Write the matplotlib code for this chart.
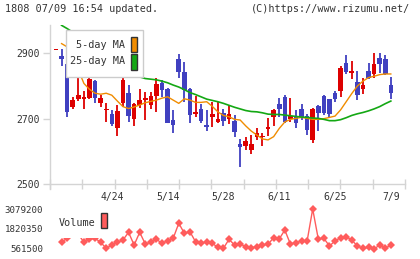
import matplotlib
matplotlib.use("Agg")
import matplotlib.pyplot as plt
import numpy as np
from matplotlib.patches import Rectangle

# price data (61 trading days)
opens = [2912, 2892, 2867, 2737, 2759, 2761, 2764, 2815, 2749, 2726,
         2713, 2670, 2749, 2780, 2700, 2742, 2758, 2742, 2769, 2808,
         2791, 2696, 2882, 2842, 2791, 2714, 2731, 2681, 2706, 2690,
         2717, 2698, 2692, 2624, 2616, 2604, 2643, 2645, 2667, 2706,
         2745, 2765, 2698, 2707, 2731, 2707, 2635, 2738, 2769, 2759,
         2780, 2786, 2872, 2841, 2811, 2791, 2846, 2836, 2885, 2882,
         2803]
closes = [2912, 2884, 2721, 2757, 2772, 2767, 2821, 2764, 2762, 2728,
          2683, 2724, 2818, 2709, 2745, 2757, 2762, 2769, 2805, 2788,
          2687, 2681, 2844, 2788, 2711, 2720, 2694, 2676, 2714, 2698,
          2694, 2713, 2660, 2614, 2631, 2624, 2655, 2648, 2676, 2728,
          2730, 2690, 2707, 2687, 2706, 2665, 2731, 2718, 2718, 2713,
          2760, 2854, 2842, 2846, 2772, 2803, 2826, 2869, 2869, 2836,
          2780]
highs = [2912, 2915, 2882, 2765, 2833, 2785, 2841, 2818, 2772, 2749,
         2728, 2742, 2824, 2803, 2748, 2790, 2783, 2782, 2826, 2818,
         2793, 2728, 2898, 2873, 2793, 2769, 2744, 2726, 2752, 2752,
         2731, 2742, 2711, 2638, 2643, 2650, 2673, 2657, 2702, 2731,
         2762, 2772, 2762, 2728, 2744, 2714, 2733, 2742, 2772, 2761,
         2786, 2861, 2895, 2876, 2846, 2826, 2872, 2902, 2902, 2895,
         2829]
lows = [2912, 2862, 2706, 2729, 2755, 2730, 2759, 2749, 2737, 2690,
        2679, 2647, 2735, 2690, 2677, 2732, 2696, 2730, 2721, 2767,
        2686, 2657, 2824, 2752, 2686, 2706, 2686, 2663, 2676, 2686,
        2677, 2683, 2645, 2553, 2604, 2591, 2635, 2616, 2647, 2677,
        2706, 2686, 2690, 2670, 2696, 2650, 2627, 2663, 2711, 2704,
        2752, 2767, 2836, 2821, 2757, 2775, 2823, 2826, 2839, 2834,
        2759]

ma5 = [np.nan, 2930, 2920, 2880, 2850, 2808, 2790, 2778, 2775, 2778,
       2772, 2754, 2737, 2731, 2736, 2742, 2749, 2753, 2757, 2763,
       2767, 2757, 2747, 2761, 2757, 2750, 2750, 2752, 2738, 2721,
       2710, 2706, 2698, 2696, 2678, 2662, 2650, 2638, 2635, 2645,
       2670, 2690, 2698, 2701, 2704, 2701, 2698, 2698, 2700, 2704,
       2708, 2727, 2752, 2777, 2800, 2815, 2826, 2830, 2835, 2837,
       2837]
ma25 = [np.nan, 2986, 2976, 2965, 2955, 2944, 2931, 2920, 2905, 2893,
        2880, 2868, 2857, 2845, 2835, 2828, 2823, 2821, 2819, 2815,
        2810, 2803, 2797, 2789, 2780, 2774, 2767, 2760, 2756, 2752,
        2747, 2741, 2735, 2730, 2725, 2722, 2721, 2718, 2714, 2713,
        2713, 2711, 2709, 2707, 2705, 2704, 2702, 2701, 2698, 2694,
        2694, 2697, 2703, 2710, 2715, 2719, 2724, 2730, 2737, 2746,
        2754]

volume = [np.nan, 983000, 1250000, 1500000, 1500000, 983000, 1170000, 1235000, 983000, 605000,
          813000, 983000, 1128000, 1610000, 813000, 1610000, 876000, 983000, 1170000, 920000,
          1080000, 1235000, 2180000, 1550000, 1650000, 1020000, 920000, 1020000, 920000, 668000,
          605000, 1170000, 813000, 876000, 706000, 643000, 706000, 813000, 857000, 1273000,
          1190000, 1757000, 876000, 958000, 1065000, 1065000, 3079200, 1190000, 1235000, 750000,
          1065000, 1273000, 1336000, 1128000, 750000, 605000, 668000, 561500, 813000, 605000,
          813000]

date_pos = [10, 20, 30, 40, 50, 60]
date_labels = ["4/24", "5/14", "5/28", "6/11", "6/25", "7/9"]
price_ticks = [2500, 2700, 2900]
vol_ticks = [561500, 1820350, 3079200]

UP = "#dd0000"
DOWN = "#4040c0"
ORANGE = "#f08c00"
GREEN = "#14a814"
VOLC = "#ff5c5c"
AXC = "#d4d4d4"
TXT = "#333333"
mono = "DejaVu Sans Mono"

W, H = 420, 259
fig = plt.figure(figsize=(W / 100, H / 100), dpi=100)
fig.patch.set_facecolor("white")


def fx(px):
    return px / W


def fy(py):
    return 1 - py / H


def box(x0, y0, x1, y1, **kw):
    # rectangle in figure pixel coords (y measured from the top)
    r = Rectangle((fx(x0), fy(y1)), fx(x1) - fx(x0), fy(y0) - fy(y1),
                  transform=fig.transFigure, **kw)
    fig.add_artist(r)


ax = fig.add_axes([fx(50), fy(184), 355 / W, 159 / H])
av = fig.add_axes([fx(50), fy(255), 355 / W, 52 / H])

idx = np.arange(len(opens))
o = np.array(opens, float)
c = np.array(closes, float)
colors = [UP if cc >= oo else DOWN for oo, cc in zip(o, c)]
body = np.maximum(np.abs(c - o), 2.5)
bottom = np.where(np.abs(c - o) < 2.5, (o + c) / 2 - 1.25, np.minimum(o, c))

ax.vlines(idx, lows, highs, colors=colors, linewidth=1.3, zorder=2)
ax.bar(idx, body, bottom=bottom, width=0.82, color=colors, linewidth=0, zorder=3)
ax.plot(idx, ma5, color=ORANGE, linewidth=1.0, zorder=4)
ax.plot(idx, ma25, color=GREEN, linewidth=1.2, zorder=4)

xmin, xmax = -1.075, 62.54
ax.set_xlim(xmin, xmax)
ax.set_ylim(2500, 2987)
for s in ["top", "right"]:
    ax.spines[s].set_visible(False)
ax.spines["left"].set_color(AXC)
ax.spines["bottom"].set_color(AXC)
ax.spines["left"].set_linewidth(1)
ax.spines["bottom"].set_linewidth(1)
ax.spines["left"].set_bounds(2485, 2987)

ax.set_xticks(np.linspace(xmin, xmax, 12))
ax.set_xticklabels([])
ax.tick_params(axis="x", which="major", direction="inout", length=7, color=AXC, width=1)
ax.set_xticks(date_pos, date_labels, minor=True)
ax.tick_params(axis="x", which="minor", length=0, pad=6, labelsize=7, labelcolor=TXT)
for t in ax.get_xticklabels(minor=True):
    t.set_fontfamily(mono)
ax.set_yticks(price_ticks)
ax.set_yticklabels([str(v) for v in price_ticks], fontfamily=mono, fontsize=7, color=TXT)
ax.tick_params(axis="y", direction="out", length=5, color=AXC, width=1, pad=2)

# MA legend (drawn by hand to match the boxed layout)
box(65.7, 30, 143.3, 77.3, facecolor="white", edgecolor="#cccccc", linewidth=1, zorder=5)
box(131, 36.7, 137, 52.3, facecolor=ORANGE, edgecolor=TXT, linewidth=1, zorder=6)
box(131, 54, 137, 69.7, facecolor=GREEN, edgecolor=TXT, linewidth=1, zorder=6)
fig.text(fx(125.5), fy(44.5), "5-day MA", fontfamily=mono, fontsize=7.3, color=TXT,
         ha="right", va="center", zorder=6)
fig.text(fx(125.5), fy(61.5), "25-day MA", fontfamily=mono, fontsize=7.3, color=TXT,
         ha="right", va="center", zorder=6)

# volume panel
av.plot(idx, volume, color=VOLC, linewidth=1.0, marker="D", markersize=4.4,
        markeredgewidth=0, zorder=2)
av.set_xlim(xmin, xmax)
av.set_ylim(183842, 3456858)
for s in av.spines.values():
    s.set_visible(False)
av.set_xticks([])
av.set_yticks(vol_ticks)
av.set_yticklabels([str(v) for v in vol_ticks], fontfamily=mono, fontsize=6.6, color=TXT)
av.tick_params(axis="y", length=0, pad=5)

box(55, 207, 110, 238, facecolor="white", edgecolor="none", zorder=5)
box(101, 213, 107.3, 228, facecolor=VOLC, edgecolor=TXT, linewidth=1, zorder=6)
fig.text(fx(95.5), fy(222.5), "Volume", fontfamily=mono, fontsize=7.3, color=TXT,
         ha="right", va="center", zorder=6)

fig.text(fx(5), fy(9), "1808 07/09 16:54 updated.", fontfamily=mono, fontsize=7.3,
         color=TXT, va="center", ha="left")
fig.text(fx(410), fy(9), "(C)https://www.rizumu.net/", fontfamily=mono, fontsize=7.3,
         color=TXT, va="center", ha="right")

fig.savefig("out.png", dpi=100)
